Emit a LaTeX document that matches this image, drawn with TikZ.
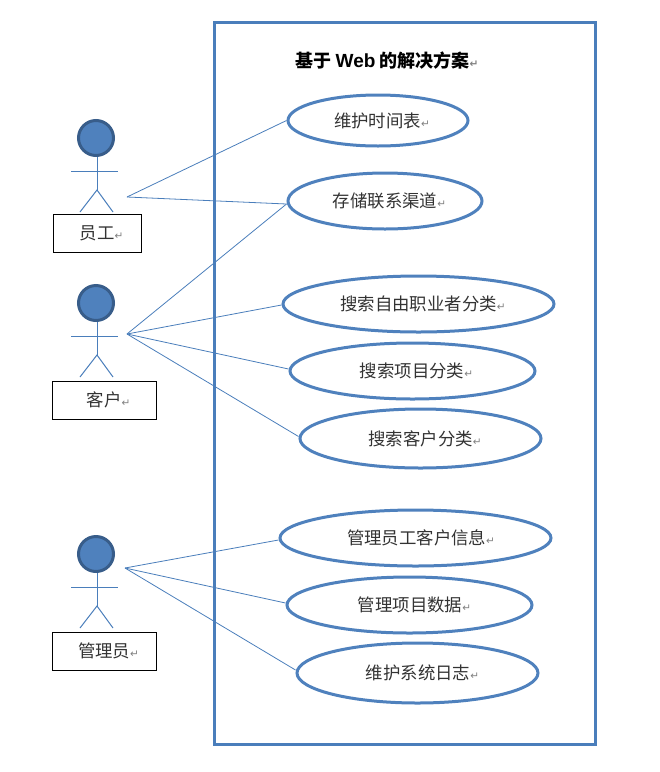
\documentclass[tikz,border=0pt]{standalone}
\usepackage{fontspec}
\setmainfont{Noto Sans CJK SC}
\newfontfamily\retfont{DejaVu Sans}
\newfontfamily\latinbold{Liberation Sans}[BoldFont={Liberation Sans Bold}]
\usetikzlibrary{shapes.geometric}
\definecolor{ublue}{HTML}{4F81BD}
\definecolor{udark}{HTML}{385D8A}
\definecolor{ulink}{HTML}{4A7EBB}
\newcommand{\ret}{{\retfont\fontsize{10.5}{10.5}\selectfont\textcolor{gray}{↵}}}
\newcommand{\lbl}[2]{\hspace*{#1}\raisebox{-1.5pt}{#2\ret}}
\tikzset{
  usecase/.style={ellipse,draw=ublue,line width=3pt,fill=white,inner sep=0pt,font=\fontsize{17.4}{19}\selectfont,text=black!80},
  rolebox/.style={draw=black,line width=1pt,fill=white,inner sep=0pt,font=\fontsize{17.4}{19}\selectfont,text=black!80},
  head/.style={circle,draw=udark,fill=ublue,line width=3pt,minimum size=35pt,inner sep=0pt},
  limb/.style={draw=ulink,line width=1pt},
  assoc/.style={draw=ulink,line width=.8pt},
}
\begin{document}
\begin{tikzpicture}[x=1pt,y=-1pt]
\useasboundingbox (0,0) rectangle (660,772);
\node[draw=ulink,line width=3pt,minimum width=381pt,minimum height=722pt,inner sep=0pt] (sys) at (404.5,383) {};
\node[font=\fontsize{18}{20}\selectfont\bfseries,inner sep=0pt] (title) at (387,61) {基于 {\latinbold\bfseries\fontsize{19}{20}\selectfont Web} 的解决方案\ret};

\node[usecase,minimum width=180pt,minimum height=51pt] (e1) at (378,120.5) {\lbl{8pt}{维护时间表}};
\node[usecase,minimum width=194pt,minimum height=56pt] (e2) at (385,201) {\lbl{9pt}{存储联系渠道}};
\node[usecase,minimum width=271pt,minimum height=56pt] (e3) at (418.5,304) {\lbl{9pt}{搜索自由职业者分类}};
\node[usecase,minimum width=245pt,minimum height=56pt] (e4) at (412.5,371) {\lbl{8pt}{搜索项目分类}};
\node[usecase,minimum width=241pt,minimum height=59pt] (e5) at (420.5,438.5) {\lbl{9pt}{搜索客户分类}};
\node[usecase,minimum width=271pt,minimum height=56pt] (e6) at (415.5,538) {\lbl{11pt}{管理员工客户信息}};
\node[usecase,minimum width=245pt,minimum height=56pt] (e7) at (409.5,605) {\lbl{10pt}{管理项目数据}};
\node[usecase,minimum width=241pt,minimum height=60pt] (e8) at (417.5,673) {\lbl{10pt}{维护系统日志}};

% actors
\foreach \n/\y in {a/138,b/303,c/554}{
  \node[head] (\n head) at (96,\y) {};
  \coordinate (\n hip) at (97,\y+52);
  \coordinate (\n armL) at (71,\y+33);
  \coordinate (\n armR) at (118,\y+33);
  \coordinate (\n legL) at (80,\y+74);
  \coordinate (\n legR) at (113,\y+74);
  \draw[limb] (\n head.south -| \n hip) -- (\n hip);
  \draw[limb] (\n armL) -- (\n armR);
  \draw[limb] (\n legL) -- (\n hip) -- (\n legR);
}
\node[rolebox,minimum width=88pt,minimum height=38pt] (r1) at (97,233) {\lbl{9pt}{员工}};
\node[rolebox,minimum width=104pt,minimum height=38pt] (r2) at (104,400) {\lbl{9pt}{客户}};
\node[rolebox,minimum width=104pt,minimum height=38pt] (r3) at (104,651) {\lbl{9pt}{管理员}};

\coordinate (h1) at (127,197);
\coordinate (h2) at (127,334);
\coordinate (h3) at (125,568);
\draw[assoc] (h1) -- (e1.west);
\draw[assoc] (h1) -- ([yshift=-3pt]e2.west);
\draw[assoc] (h2) -- ([yshift=-3pt]e2.west);
\draw[assoc] (h2) -- ([yshift=-1pt]e3.west);
\draw[assoc] (h2) -- ([yshift=2pt]e4.west);
\draw[assoc] (h2) -- ([yshift=2pt]e5.west);
\draw[assoc] (h3) -- ([yshift=-2pt]e6.west);
\draw[assoc] (h3) -- ([yshift=2pt]e7.west);
\draw[assoc] (h3) -- ([yshift=3pt]e8.west);
\end{tikzpicture}
\end{document}
